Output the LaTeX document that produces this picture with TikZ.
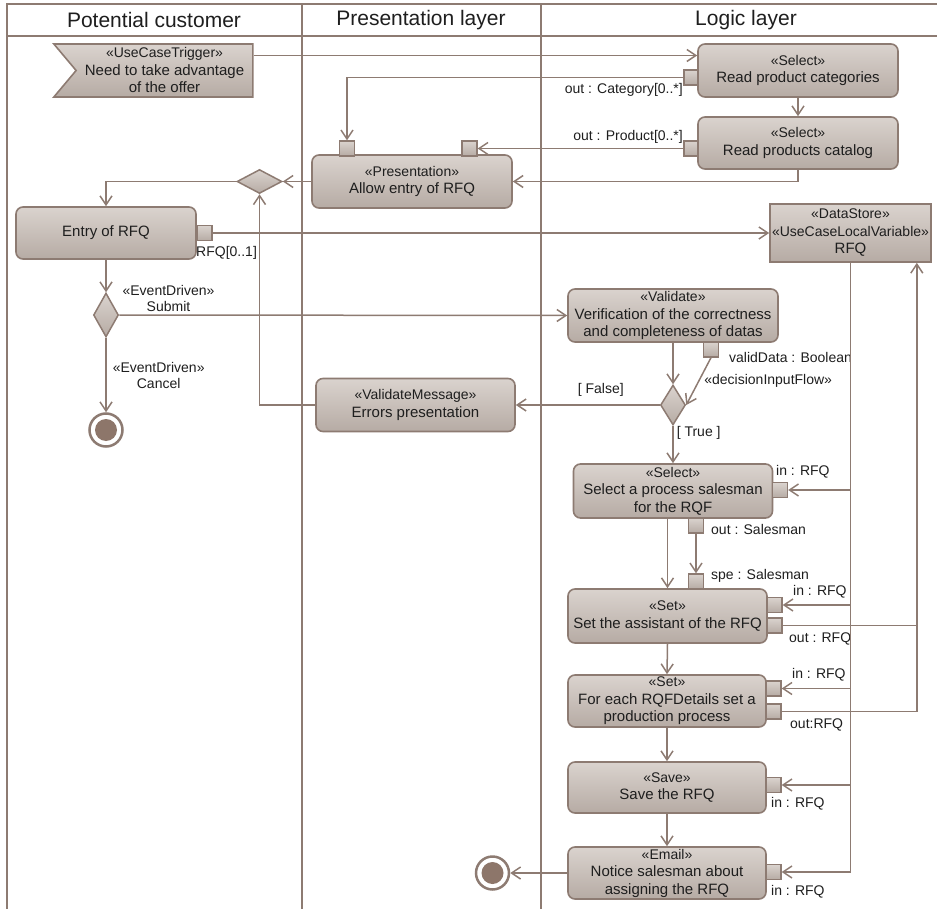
\documentclass[tikz,border=0pt]{standalone}
\usepackage{fontspec}
\setmainfont{Liberation Sans}
\usepackage{xcolor}
\usepackage{tikz}
\usetikzlibrary{shapes.geometric, shapes.symbols, arrows.meta, positioning, calc}
\definecolor{umlline}{RGB}{141, 123, 114}
\definecolor{umltop}{RGB}{218, 211, 206}
\definecolor{umlbottom}{RGB}{182, 171, 164}
\definecolor{umldot}{RGB}{141, 118, 106}
\definecolor{umltext}{RGB}{30, 30, 30}
\newcommand{\stereo}[1]{{\fontsize{14}{17.5}\selectfont «#1»}}

\begin{document}
\begin{tikzpicture}[x=1pt, y=-1pt,
  action/.style={draw=umlline, line width=1.6pt, top color=umltop, bottom color=umlbottom, rounded corners=7pt, minimum width=199pt, minimum height=53pt, align=center, inner sep=0pt, text=umltext, font=\fontsize{15}{17.5}\selectfont},
  store/.style={action, sharp corners, minimum width=161pt, minimum height=58pt},
  trigger/.style={action, sharp corners, shape=signal, signal from=west, signal to=nowhere, signal pointer angle=100},
  port/.style={draw=umlline, line width=1.3pt, top color=umltop, bottom color=umlbottom, minimum size=15pt, inner sep=0pt},
  choice/.style={diamond, draw=umlline, line width=1.5pt, top color=umltop, bottom color=umlbottom, inner sep=0pt},
  final/.style={circle, draw=umlline, line width=2.5pt, fill=white, minimum size=33pt, inner sep=0pt, path picture={\fill[umldot] (path picture bounding box.center) circle (11pt);}},
  conn/.style={draw=umlline, line width=1.5pt},
  flow/.style={conn, -{Straight Barb[length=9pt, width=12pt]}},
  lane/.style={draw=umlline, line width=1.5pt},
  header/.style={font=\fontsize{21}{24}\selectfont, text=umltext},
  portlabel/.style={font=\fontsize{14}{16}\selectfont, text=umltext, inner sep=0pt},
  flowlabel/.style={portlabel, align=center}
]
  \useasboundingbox (0,0) rectangle (937,909);

  % Swimlanes
  \draw[lane] (7,909) -- (7,4) -- (937,4);
  \draw[lane] (7,36) -- (937,36);
  \draw[lane] (302,4) -- (302,909);
  \draw[lane] (541,4) -- (541,909);
  \node[header] (hcust) at (154,20) {Potential customer};
  \node[header] (hpres) at (421,20) {Presentation layer};
  \node[header] (hlogic) at (746,20) {Logic layer};

  % Actions
  \node[trigger] (trig) at (164.5,70.5) {\stereo{UseCaseTrigger}\\Need to take advantage\\of the offer};
  \node[action, minimum width=200pt] (rpc) at (798,70.5) {\stereo{Select}\\Read product categories};
  \node[action, minimum width=200pt, minimum height=52pt] (rpcat) at (798,143) {\stereo{Select}\\Read products catalog};
  \node[action, minimum width=200pt] (allow) at (412,181.5) {\stereo{Presentation}\\Allow entry of RFQ};
  \node[action, minimum width=180pt, minimum height=52pt] (entry) at (106,233) {Entry of RFQ};
  \node[store] (ds) at (850.5,233) {\stereo{DataStore}\\\stereo{UseCaseLocalVariable}\\RFQ};
  \node[action, minimum width=210pt] (verif) at (673,315.5) {\stereo{Validate}\\Verification of the correctness\\and completeness of datas};
  \node[action] (errors) at (415.5,405) {\stereo{ValidateMessage}\\Errors presentation};
  \node[action, minimum height=54pt] (salesman) at (673,491) {\stereo{Select}\\Select a process salesman\\for the RQF};
  \node[action, minimum height=54pt] (assist) at (667.5,616) {\stereo{Set}\\Set the assistant of the RFQ};
  \node[action, minimum width=198pt, minimum height=52pt] (foreach) at (667,701) {\stereo{Set}\\For each RQFDetails set a\\production process};
  \node[action, minimum width=198pt, minimum height=51pt] (save) at (667,787.5) {\stereo{Save}\\Save the RFQ};
  \node[action, minimum width=198pt, minimum height=52pt] (notice) at (667,873) {\stereo{Email}\\Notice salesman about\\assigning the RFQ};

  % Control nodes
  \node[choice, minimum width=45pt, minimum height=24pt] (merge) at (259.5,181.5) {};
  \node[choice, minimum width=25pt, minimum height=44pt] (dec1) at (106,315) {};
  \node[choice, minimum width=25pt, minimum height=40pt] (dec2) at (673,405) {};
  \node[final] (fin1) at (106,430) {};
  \node[final] (fin2) at (492.5,873) {};

  % Pins
  \node[port, minimum width=14pt] (pcat) at (691,77.5) {};
  \node[port, minimum width=14pt] (pprod) at (691,148.5) {};
  \node[port] (pallowl) at (347,148.5) {};
  \node[port] (pallowr) at (469.5,148.5) {};
  \node[port] (pentry) at (204.5,233) {};
  \node[port] (pvalid) at (711,349.5) {};
  \node[port] (pselin) at (780,490) {};
  \node[port] (pselout) at (696,525.5) {};
  \node[port] (pspe) at (696,581.5) {};
  \node[port] (pasin) at (774.5,605) {};
  \node[port] (pasout) at (774.5,625.5) {};
  \node[port] (pfein) at (773.5,688.5) {};
  \node[port] (pfeout) at (773.5,711.5) {};
  \node[port] (psavein) at (773.5,785) {};
  \node[port] (pnotin) at (773.5,872) {};

  % Pin labels
  \node[portlabel, anchor=east] (lcat) at (683,90) {out : Category[0..*]};
  \node[portlabel, anchor=east] (lprod) at (683,137) {out : Product[0..*]};
  \node[portlabel, anchor=west] (lentry) at (196,253) {RFQ[0..1]};
  \node[portlabel, anchor=west] (lvalid) at (729,357) {validData : Boolean};
  \node[portlabel, anchor=west] (lselin) at (776,472) {in : RFQ};
  \node[portlabel, anchor=west] (lselout) at (711,529) {out : Salesman};
  \node[portlabel, anchor=west] (lspe) at (711,576) {spe : Salesman};
  \node[portlabel, anchor=west] (lasin) at (793,592) {in : RFQ};
  \node[portlabel, anchor=west] (lasout) at (789,639) {out : RFQ};
  \node[portlabel, anchor=west] (lfein) at (792,675) {in : RFQ};
  \node[portlabel, anchor=west] (lfeout) at (790,725) {out:RFQ};
  \node[portlabel, anchor=west] (lsavein) at (771,804) {in : RFQ};
  \node[portlabel, anchor=west] (lnotin) at (771,892) {in : RFQ};

  % Flows
  \draw[flow] ([yshift=15pt]trig.east) -- ([yshift=15pt]rpc.west);
  \draw[flow] (pcat.west) -| (pallowl.north);
  \draw[flow] (rpc.south) -- (rpcat.north);
  \draw[flow] (pprod.west) -- (pallowr.east);
  \draw[flow] (rpcat.south) |- (allow.east);
  \draw[flow] (allow.west) -- (merge.east);
  \draw[flow] (merge.west) -| (entry.north);
  \draw[flow] (pentry.east) -- (ds.west);
  \draw[flow] (entry.south) -- (dec1.north);
  \draw[flow] (dec1.east) -- node[flowlabel, pos=0.11, above=3pt] (lsubmit) {\stereo{EventDriven}\\Submit} (verif.west);
  \draw[flow] (dec1.south) -- node[flowlabel, right=6pt] (lcancel) {\stereo{EventDriven}\\Cancel} (fin1.north);
  \draw[flow] (errors.west) -| (merge.south);
  \draw[flow] (verif.south) -- (dec2.north);
  \draw[flow] (pvalid.south) -- node[portlabel, midway, right=5pt] (ldecision) {«decisionInputFlow»} (dec2.east);
  \draw[flow] (dec2.west) -- node[portlabel, pos=0.41, above=8pt] (lfalse) {[ False]} (errors.east);
  \draw[flow] (dec2.south) -- node[portlabel, pos=0.2, right=3pt] (ltrue) {[ True ]} (salesman.north);
  \draw[flow] (pselout.south) -- (pspe.north);
  \draw[flow] (assist.north |- salesman.south) -- (assist.north);
  \draw[flow] (assist.south) -- (foreach.north);
  \draw[flow] (foreach.south) -- (save.north);
  \draw[flow] (save.south) -- (notice.north);
  \draw[flow] (notice.west) -- (fin2.east);

  % Data store reads and writes
  \draw[flow] (ds.south) |- (pnotin.east);
  \draw[flow] (ds.south |- pselin.east) -- (pselin.east);
  \draw[flow] (ds.south |- pasin.east) -- (pasin.east);
  \draw[flow] (ds.south |- pfein.east) -- (pfein.east);
  \draw[flow] (ds.south |- psavein.east) -- (psavein.east);
  \coordinate (dsin) at ([xshift=-15pt]ds.south east);
  \draw[flow] (pfeout.east) -| (dsin);
  \draw[conn] (pasout.east) -- (pasout.east -| dsin);
\end{tikzpicture}
\end{document}
